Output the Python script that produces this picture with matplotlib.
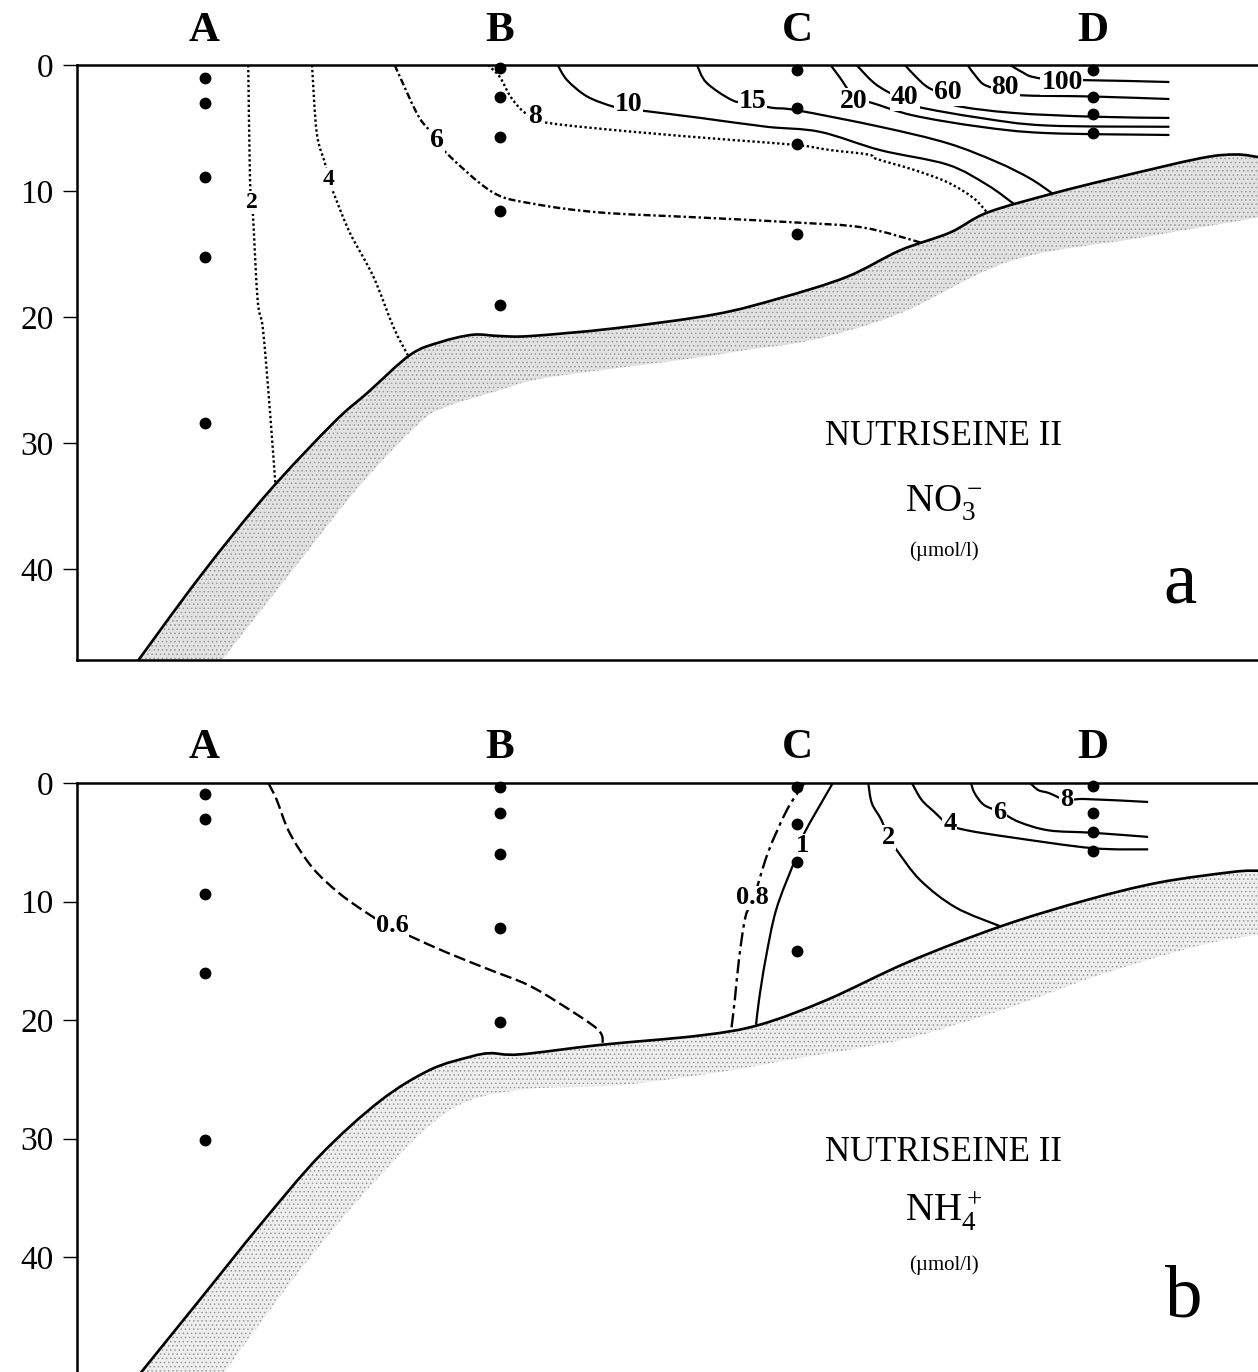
import matplotlib
matplotlib.use("Agg")
import matplotlib.pyplot as plt
from matplotlib.path import Path
from matplotlib.patches import PathPatch

plt.rcParams['font.family'] = 'Liberation Serif'
plt.rcParams['mathtext.fontset'] = 'custom'
plt.rcParams['mathtext.rm'] = 'Liberation Serif'
plt.rcParams['hatch.linewidth'] = 0.6

# stations along the section (distance units) and sampling depths (m)
stations  = ['A', 'B', 'C', 'D']
station_x = [10.8, 35.8, 61.0, 86.0]
samples_a = [[1.0, 3.0, 8.9, 15.2, 28.4],
             [0.25, 2.5, 5.7, 11.6, 19.0],
             [0.4, 3.4, 6.3, 13.4],
             [0.4, 2.5, 3.9, 5.4]]
samples_b = [[0.9, 3.0, 9.4, 16.0, 30.1],
             [0.3, 2.5, 6.0, 12.2, 20.2],
             [0.3, 3.5, 6.7, 14.2],
             [0.25, 2.5, 4.1, 5.7]]

# sea bed (top line) and lower edge of the sediment band
bed_a_x   = [4.2, 10.4, 16.1, 21.7, 24.6, 28.2, 30.7, 33.5, 35.8, 38.4, 45.4, 53.9,
             59.5, 65.2, 69.7, 73.9, 77.1, 82.6, 87.7, 95.1, 98.1, 100]
bed_a_d   = [48.5, 40.6, 34.0, 28.4, 26.0, 23.0, 22.0, 21.4, 21.5, 21.5, 20.9, 19.8,
             18.5, 16.8, 14.7, 13.3, 11.7, 10.2, 9.0, 7.4, 7.1, 7.3]
sed_a_x   = [11.2, 18.9, 24.0, 29.0, 31.3, 35.8, 39.8, 51.1, 56.7, 62.3, 69.7, 79.2, 90.1, 100]
sed_a_d   = [48.5, 39.3, 33.3, 28.4, 27.1, 25.8, 24.8, 23.4, 22.6, 21.8, 19.7, 15.5, 13.7, 12.1]

bed_b_x   = [4.8, 10.4, 15.5, 20.6, 25.7, 29.9, 33.3, 35.0, 37.5, 44.3, 52.8, 57.8,
             63.5, 70.4, 78.2, 85.4, 91.6, 97.9, 100]
bed_b_d   = [50.5, 43.6, 37.3, 31.4, 26.8, 24.2, 23.1, 22.8, 22.9, 22.1, 21.3, 20.4,
             18.3, 15.1, 12.1, 9.9, 8.4, 7.5, 7.4]
sed_b_x   = [11.9, 18.9, 25.7, 31.6, 37.5, 46.0, 54.4, 61.2, 69.7, 78.2, 86.6, 95.1, 100]
sed_b_d   = [50.5, 41.1, 33.1, 27.6, 25.9, 25.5, 24.4, 23.2, 21.7, 19.2, 16.2, 13.7, 12.8]

# NO3- isolines (umol/l)
no3_labels = ['2', '4', '6', '8', '10', '15', '20', '40', '60', '80', '100']
no3_x = [[14.5, 14.65, 14.8, 14.9, 15.3, 15.75, 16.35, 16.8],
         [19.9, 20.3, 21.0, 21.25, 21.7, 23.1, 25.1, 26.8, 28.0],
         [26.9, 27.35, 29.0, 30.5, 31.3, 35.2, 38.6, 44.3, 52.8, 61.0, 66.6, 71.5],
         [34.8, 35.8, 36.7, 37.8, 38.8, 39.9, 47.1, 55.5, 61.0, 63.8, 67.0, 67.7,
          70.8, 73.7, 75.9, 77.1],
         [40.7, 41.5, 43.2, 45.4, 46.7, 48.1, 52.8, 58.4, 62.9, 68.0, 73.7, 77.05, 79.3],
         [52.5, 53.3, 55.5, 57.2, 58.9, 61.0, 68.0, 73.7, 77.9, 80.7, 82.6],
         [63.8, 64.6, 65.5, 66.5, 67.3, 70.8, 76.5, 82.1, 92.5],
         [66.0, 67.4, 68.6, 70.1, 71.1, 76.5, 82.1, 92.5],
         [70.1, 71.1, 72.1, 73.75, 74.3, 79.25, 86.0, 92.5],
         [75.4, 76.2, 76.9, 78.6, 79.85, 86.0, 92.5],
         [79.0, 80.1, 80.95, 83.4, 85.2, 92.5]]
no3_d = [[0, 9.1, 10.9, 11.9, 18.7, 21.0, 27.6, 33.3],
         [0, 5.4, 7.8, 9.1, 10.1, 13.3, 16.8, 20.8, 23.0],
         [0, 0.95, 4.2, 5.8, 7.0, 10.1, 11.0, 11.7, 12.1, 12.5, 12.9, 14.1],
         [0, 0.95, 2.5, 3.7, 4.1, 4.6, 5.3, 5.95, 6.35, 6.75, 7.1, 7.45,
          8.3, 9.3, 10.55, 11.75],
         [0, 1.2, 2.5, 3.3, 3.5, 3.65, 4.2, 4.9, 5.3, 6.75, 7.9, 9.5, 11.0],
         [0, 1.4, 2.8, 3.1, 3.4, 3.6, 4.9, 6.2, 7.7, 9.0, 10.2],
         [0, 1.0, 2.2, 2.9, 3.0, 4.0, 4.9, 5.4, 5.55],
         [0, 1.35, 2.1, 2.75, 3.3, 4.2, 4.8, 4.9],
         [0, 1.0, 1.8, 2.5, 3.2, 3.8, 4.1, 4.2],
         [0, 1.0, 1.6, 2.1, 2.4, 2.5, 2.7],
         [0, 0.6, 0.95, 1.3, 1.2, 1.35]]
no3_lab_x = [14.8, 21.3, 30.5, 38.8, 46.7, 57.2, 65.8, 70.1, 73.75, 78.6, 83.4]
no3_lab_d = [10.9, 9.1, 5.95, 4.1, 3.1, 2.9, 2.9, 2.6, 2.2, 1.75, 1.35]

# NH4+ isolines (umol/l)
nh4_labels = ['0.6', '0.8', '1', '2', '4', '6', '8']
nh4_x = [[16.2, 16.9, 18.0, 19.9, 22.2, 24.6, 26.6, 28.6, 31.3, 35.05, 38.1, 40.7, 44.1, 44.5],
         [61.6, 60.1, 58.5, 57.3, 56.6, 56.05, 55.7, 55.4],
         [64.0, 61.6, 61.4, 60.7, 59.2, 58.3, 57.75, 57.5],
         [67.0, 67.3, 68.1, 68.7, 69.4, 71.4, 74.4, 78.2],
         [70.7, 71.5, 72.6, 73.8, 75.4, 79.2, 86.0, 90.7],
         [75.7, 76.0, 76.8, 78.2, 79.8, 82.3, 86.0, 90.7],
         [80.7, 81.4, 82.3, 83.8, 85.3, 90.7]]
nh4_d = [[0, 1.4, 4.2, 7.1, 9.3, 11.0, 12.2, 13.1, 14.3, 15.8, 17.0, 18.5, 20.8, 22.1],
         [0, 2.3, 5.9, 9.7, 11.3, 14.9, 18.3, 20.8],
         [0, 4.2, 5.2, 6.75, 10.7, 14.9, 18.3, 20.4],
         [0, 1.7, 3.1, 4.6, 5.65, 8.2, 10.5, 12.1],
         [0, 1.4, 2.45, 3.5, 4.0, 4.6, 5.5, 5.6],
         [0, 0.85, 1.85, 2.45, 3.3, 4.0, 4.2, 4.55],
         [0, 0.6, 0.85, 1.45, 1.35, 1.6]]
nh4_lab_x = [26.7, 57.2, 61.4, 68.7, 73.9, 78.1, 83.8]
nh4_lab_d = [12.0, 9.7, 5.3, 4.6, 3.4, 2.5, 1.4]

depth_ticks = [0, 10, 20, 30, 40]

DOT = (0, (1, 1.1))
DASHDOT = (0, (3, 1.2, 1, 1.2))
no3_styles = [DOT, DOT, DASHDOT, DOT, '-', '-', '-', '-', '-', '-', '-']
no3_sizes = [17, 17, 20, 20, 20, 20, 20, 20, 20, 20, 20]
nh4_styles = [(0, (5, 2)), (0, (6, 2, 1.5, 2)), '-', '-', '-', '-', '-']
nh4_sizes = [19, 19, 19, 19, 19, 19, 19]


def smooth_path(xs, ys):
    # Catmull-Rom curve through the read points, drawn as cubic Bezier segments
    pts = list(zip(xs, ys))
    verts = [pts[0]]
    codes = [Path.MOVETO]
    n = len(pts)
    for i in range(n - 1):
        p0 = pts[max(i - 1, 0)]
        p1 = pts[i]
        p2 = pts[i + 1]
        p3 = pts[min(i + 2, n - 1)]
        c1 = (p1[0] + (p2[0] - p0[0]) / 6, p1[1] + (p2[1] - p0[1]) / 6)
        c2 = (p2[0] - (p3[0] - p1[0]) / 6, p2[1] - (p3[1] - p1[1]) / 6)
        verts += [c1, c2, p2]
        codes += [Path.CURVE4] * 3
    return Path(verts, codes)


def draw_curve(ax, xs, ys, **kw):
    ax.add_patch(PathPatch(smooth_path(xs, ys), fill=False, edgecolor='k',
                           capstyle='butt', **kw))


def draw_panel(ax, ymax, samples, bed_x, bed_d, sed_x, sed_d,
               lx, ld, labels, lab_x, lab_d, styles, sizes, face, st_y):
    ax.set_xlim(0, 100)
    ax.set_ylim(ymax, 0)

    # sediment band: sea bed line, then back along the lower edge
    top = smooth_path(bed_x, bed_d)
    low = smooth_path(sed_x[::-1], sed_d[::-1])
    band = Path(list(top.vertices) + list(low.vertices),
                list(top.codes) + [Path.LINETO] + list(low.codes)[1:])
    ax.add_patch(PathPatch(band, facecolor=face, edgecolor='#9a9a9a', hatch='....',
                           linewidth=0, zorder=1))
    draw_curve(ax, bed_x, bed_d, lw=1.9, zorder=3)

    for xs, ds, ls in zip(lx, ld, styles):
        draw_curve(ax, xs, ds, lw=1.6 if ls == '-' else 1.7, ls=ls, zorder=2)
    for lab, x, d, fs in zip(labels, lab_x, lab_d, sizes):
        ax.text(x, d, lab, ha='center', va='center', fontsize=fs, fontweight='bold',
                bbox=dict(fc='white', ec='none', pad=0.6), zorder=4)

    for sx, deps in zip(station_x, samples):
        ax.plot([sx] * len(deps), deps, 'o', color='k', ms=7.5, zorder=5, clip_on=False)

    for name, sx in zip(stations, station_x):
        ax.text(sx, st_y, name, ha='center', va='baseline', fontsize=31,
                fontweight='bold')

    ax.set_xticks([])
    ax.set_yticks(depth_ticks)
    ax.tick_params(axis='y', direction='out', length=10, width=1, pad=7, labelsize=24)
    ax.spines['right'].set_visible(False)
    for s in ['left', 'top', 'bottom']:
        ax.spines[s].set_linewidth(1.8)


fig = plt.figure(figsize=(12.58, 13.72), dpi=100)
ax_a = fig.add_axes([77 / 1258, 1 - 660 / 1372, 1 - 77 / 1258, 595 / 1372])
ax_b = fig.add_axes([77 / 1258, 0, 1 - 77 / 1258, 589 / 1372])

draw_panel(ax_a, 47.2, samples_a, bed_a_x, bed_a_d, sed_a_x, sed_a_d,
           no3_x, no3_d, no3_labels, no3_lab_x, no3_lab_d, no3_styles, no3_sizes,
           '#e2e2e2', -1.9)
draw_panel(ax_b, 49.7, samples_b, bed_b_x, bed_b_d, sed_b_x, sed_b_d,
           nh4_x, nh4_d, nh4_labels, nh4_lab_x, nh4_lab_d, nh4_styles, nh4_sizes,
           '#eeeeee', -2.1)
ax_b.spines['bottom'].set_visible(False)

# annotations
for ax, ion, ys in [(ax_a, r'$\mathregular{NO_3^-}$', [0.361, 0.249, 0.175]),
                    (ax_b, r'$\mathregular{NH_4^+}$', [0.358, 0.255, 0.173])]:
    ax.text(0.734, ys[0], 'NUTRISEINE II', transform=ax.transAxes, ha='center',
            va='baseline', fontsize=25)
    ax.text(0.734, ys[1], ion, transform=ax.transAxes, ha='center',
            va='baseline', fontsize=28)
    ax.text(0.734, ys[2], '(\u00b5mol/l)', transform=ax.transAxes, ha='center',
            va='baseline', fontsize=15)
ax_a.text(0.934, 0.096, 'a', transform=ax_a.transAxes, ha='center', va='baseline',
          fontsize=54)
ax_b.text(0.937, 0.095, 'b', transform=ax_b.transAxes, ha='center', va='baseline',
          fontsize=54)

fig.savefig('out.png', dpi=100)
